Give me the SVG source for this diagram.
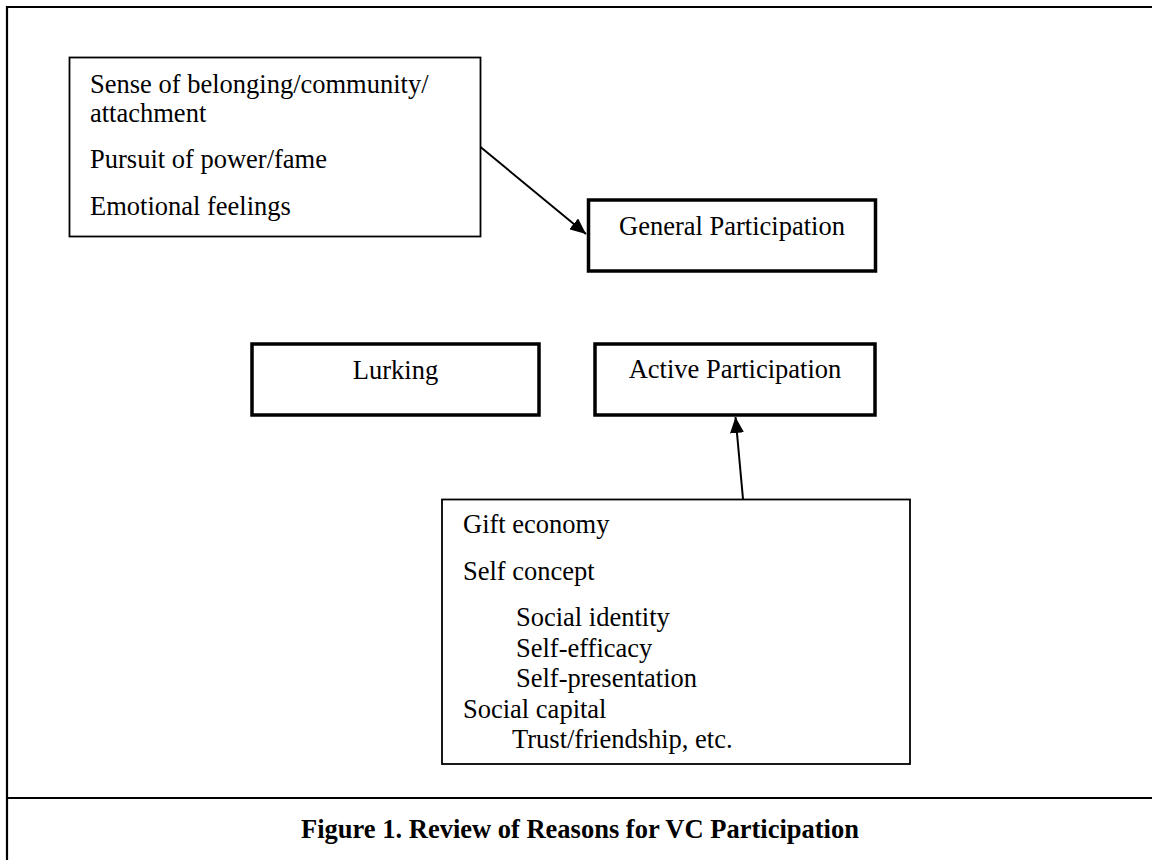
<svg xmlns="http://www.w3.org/2000/svg" width="1152" height="860" viewBox="0 0 1152 860">
<style>
.t{font-family:"Liberation Serif","Times New Roman",serif;font-size:26.5px;fill:#000}
.c{text-anchor:middle}
.thin{fill:#fff;stroke:#000;stroke-width:1.8}
.thick{fill:#fff;stroke:#000;stroke-width:3.5}
.frame{fill:none;stroke:#000;stroke-width:2.2}
.cap{font-family:"Liberation Serif","Times New Roman",serif;font-size:26.5px;font-weight:bold;fill:#000;text-anchor:middle}
</style>
<defs>
<marker id="ah" markerWidth="16" markerHeight="14" refX="16" refY="7" orient="auto" markerUnits="userSpaceOnUse" viewBox="0 0 16 14">
<path d="M0,0 L16,7 L0,14 z" fill="#000"/>
</marker>
</defs>
<rect width="1152" height="860" fill="#fff"/>
<g id="frame">
<path class="frame" d="M7,860 V7 H1152"/>
<line class="frame" x1="7" y1="798" x2="1152" y2="798"/>
</g>
<g id="reasons-general">
<rect class="thin" x="69.5" y="57.5" width="411" height="179"/>
<text class="t" x="90" y="93">Sense of belonging/community/</text>
<text class="t" x="90" y="122">attachment</text>
<text class="t" x="90" y="168">Pursuit of power/fame</text>
<text class="t" x="90" y="215">Emotional feelings</text>
</g>
<g id="general-participation">
<rect class="thick" x="588.5" y="200" width="287" height="71"/>
<text class="t c" x="732" y="235">General Participation</text>
</g>
<g id="lurking">
<rect class="thick" x="252" y="344" width="287" height="71"/>
<text class="t c" x="395.5" y="379">Lurking</text>
</g>
<g id="active-participation">
<rect class="thick" x="595" y="344" width="280" height="71"/>
<text class="t c" x="735" y="378">Active Participation</text>
</g>
<g id="reasons-active">
<rect class="thin" x="442" y="499.5" width="468" height="264.5"/>
<text class="t" x="463" y="533">Gift economy</text>
<text class="t" x="463" y="580">Self concept</text>
<text class="t" x="516" y="626">Social identity</text>
<text class="t" x="516" y="657">Self-efficacy</text>
<text class="t" x="516" y="687">Self-presentation</text>
<text class="t" x="463" y="718">Social capital</text>
<text class="t" x="512" y="748">Trust/friendship, etc.</text>
</g>
<g id="connectors" stroke="#000" stroke-width="2" fill="none">
<line x1="480.5" y1="147" x2="586" y2="234" marker-end="url(#ah)"/>
<line x1="743" y1="499" x2="735.5" y2="417" marker-end="url(#ah)"/>
</g>
<g id="caption">
<text class="cap" x="580" y="838">Figure 1. Review of Reasons for VC Participation</text>
</g>
</svg>
